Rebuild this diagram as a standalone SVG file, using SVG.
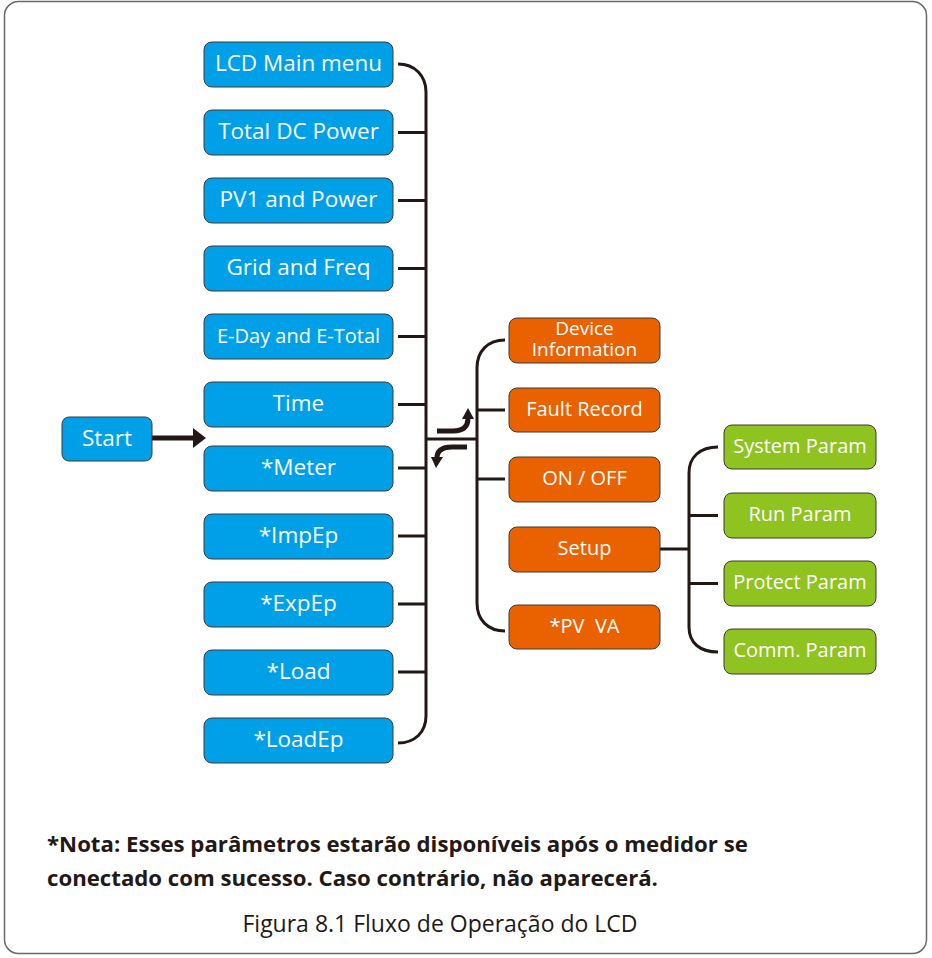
<svg xmlns="http://www.w3.org/2000/svg" width="932" height="958" viewBox="0 0 932 958">
<style>
.frame{fill:#fff;stroke:#6a6868;stroke-width:1.5}
.box{stroke:#3e3a39;stroke-width:1}
.blue{fill:#00a0e9}
.orange{fill:#ea6100}
.green{fill:#8fc31f}
.t{fill:#fff;font-family:"Open Sans","Noto Sans",sans-serif;text-anchor:middle;dominant-baseline:central}
.l{font-size:22.5px}
.s{font-size:20px}
.d{font-size:19px}
.c{fill:none;stroke:#231815;stroke-width:3}
.a{fill:none;stroke:#231815;stroke-width:5}
.h{fill:#231815}
.note{font-family:"Open Sans","Noto Sans",sans-serif;font-weight:bold;font-size:22.2px;fill:#231815}
.cap{font-family:"Open Sans","Noto Sans",sans-serif;font-size:23px;fill:#231815;text-anchor:middle}
</style>
<rect class="frame" x="4.5" y="1.5" width="922" height="952" rx="14"/>
<g id="connectors">
<path class="c" d="M398,64 C415,64 426,76 426,92 L426,716 C426,732 415,743 398,743"/>
<path class="c" d="M398,132.5H426M398,200.5H426M398,268.5H426M398,336.5H426M398,404.5H426M398,468H426M398,536H426M398,604H426M398,672H426"/>
<path class="c" d="M426,439H477"/>
<path class="c" d="M505,340 C488,340 477,351 477,368 L477,603 C477,620 488,631 505,631"/>
<path class="c" d="M477,410H505M477,479H505"/>
<path class="c" d="M660,549H689"/>
<path class="c" d="M718,447 C700,447 689,457 689,473 L689,627 C689,643 700,652 718,652"/>
<path class="c" d="M689,515.5H718M689,583.5H718"/>
<path class="a" d="M152,438H195"/>
<polygon class="h" points="193,428 206,438 193,448"/>
<path class="a" d="M437,431H453 Q468,431 468,418"/>
<polygon class="h" points="462,419 474,419 468,408"/>
<path class="a" d="M467,447H452 Q437,447 437,458"/>
<polygon class="h" points="431,457 443,457 436,468"/>
</g>
<g id="start"><rect class="box blue" x="62" y="417" width="90" height="44" rx="7"/><text class="t l" x="107" y="437">Start</text></g>
<g id="lcd-main-menu"><rect class="box blue" x="204" y="42" width="189" height="45" rx="8"/><text class="t l" x="298.5" y="62.5">LCD Main menu</text></g>
<g id="total-dc-power"><rect class="box blue" x="204" y="110" width="189" height="45" rx="8"/><text class="t l" x="298.5" y="130.5">Total DC Power</text></g>
<g id="pv1-and-power"><rect class="box blue" x="204" y="178" width="189" height="45" rx="8"/><text class="t l" x="298.5" y="198.5">PV1 and Power</text></g>
<g id="grid-and-freq"><rect class="box blue" x="204" y="246" width="189" height="45" rx="8"/><text class="t l" x="298.5" y="266.5">Grid and Freq</text></g>
<g id="eday-etotal"><rect class="box blue" x="204" y="314" width="189" height="45" rx="8"/><text class="t s" x="298.5" y="335">E-Day and E-Total</text></g>
<g id="time"><rect class="box blue" x="204" y="382" width="189" height="45" rx="8"/><text class="t l" x="298.5" y="402.5">Time</text></g>
<g id="meter"><rect class="box blue" x="204" y="446" width="189" height="45" rx="8"/><text class="t l" x="298.5" y="466">*Meter</text></g>
<g id="impep"><rect class="box blue" x="204" y="514" width="189" height="45" rx="8"/><text class="t l" x="298.5" y="534">*ImpEp</text></g>
<g id="expep"><rect class="box blue" x="204" y="582" width="189" height="45" rx="8"/><text class="t l" x="298.5" y="602">*ExpEp</text></g>
<g id="load"><rect class="box blue" x="204" y="650" width="189" height="45" rx="8"/><text class="t l" x="298.5" y="670">*Load</text></g>
<g id="loadep"><rect class="box blue" x="204" y="718" width="189" height="45" rx="8"/><text class="t l" x="298.5" y="738">*LoadEp</text></g>
<g id="device-information"><rect class="box orange" x="509" y="318" width="151" height="45" rx="8"/><text class="t d" x="584.5" y="327.5">Device</text><text class="t d" x="584.5" y="348.5">Information</text></g>
<g id="fault-record"><rect class="box orange" x="509" y="388" width="151" height="44" rx="8"/><text class="t s" x="584.5" y="408">Fault Record</text></g>
<g id="on-off"><rect class="box orange" x="509" y="457" width="151" height="45" rx="8"/><text class="t s" x="584.5" y="477.5">ON / OFF</text></g>
<g id="setup"><rect class="box orange" x="509" y="527" width="151" height="45" rx="8"/><text class="t s" x="584.5" y="547.5">Setup</text></g>
<g id="pv-va"><rect class="box orange" x="509" y="605" width="151" height="44" rx="8"/><text class="t s" x="584.5" y="625" xml:space="preserve">*PV  VA</text></g>
<g id="system-param"><rect class="box green" x="724" y="425" width="152" height="44" rx="8"/><text class="t s" x="800" y="445">System Param</text></g>
<g id="run-param"><rect class="box green" x="724" y="493" width="152" height="45" rx="8"/><text class="t s" x="800" y="513.5">Run Param</text></g>
<g id="protect-param"><rect class="box green" x="724" y="561" width="152" height="45" rx="8"/><text class="t s" x="800" y="581.5">Protect Param</text></g>
<g id="comm-param"><rect class="box green" x="724" y="629" width="152" height="45" rx="8"/><text class="t s" x="800" y="649.5">Comm. Param</text></g>
<text class="note" x="47" y="852">*Nota: Esses parâmetros estarão disponíveis após o medidor se</text>
<text class="note" x="47" y="886">conectado com sucesso. Caso contrário, não aparecerá.</text>
<text class="cap" x="440" y="932">Figura 8.1 Fluxo de Operação do LCD</text>
</svg>
